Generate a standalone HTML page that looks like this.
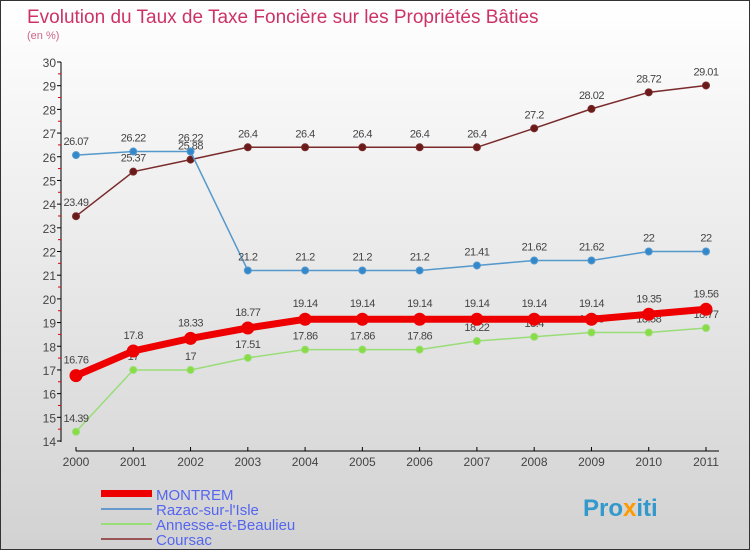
<!DOCTYPE html>
<html><head><meta charset="utf-8"><style>
body{margin:0}
#wrap{width:750px;height:550px;position:relative;background:linear-gradient(#ffffff,#d2d2d2);box-sizing:border-box;border:1px solid #333;font-family:"Liberation Sans",sans-serif}
</style></head><body>
<div id="wrap">
<svg id="svg" width="750" height="550" style="position:absolute;left:0;top:0">
<text x="26" y="22" font-size="19" fill="#cc3366">Evolution du Taux de Taxe Foncière sur les Propriétés Bâties</text>
<text x="26" y="38" font-size="11" fill="#cc6688">(en %)</text>
<g id="axes"></g><g id="series"></g>
<g>
<rect x="100" y="489" width="51" height="7" fill="#ee0000"/>
<text x="155" y="499" font-size="15" fill="#5566ee">MONTREM</text>
<rect x="100" y="507" width="51" height="2" fill="#6699cc"/>
<text x="155" y="514" font-size="15" fill="#5566ee">Razac-sur-l'Isle</text>
<rect x="100" y="522" width="51" height="2" fill="#99dd77"/>
<text x="155" y="529" font-size="15" fill="#5566ee">Annesse-et-Beaulieu</text>
<rect x="100" y="537" width="51" height="2" fill="#995555"/>
<text x="155" y="544" font-size="15" fill="#5566ee">Coursac</text>
</g>
<text x="582" y="515" font-size="24" font-weight="bold" fill="#3399cc">Pro<tspan fill="#ff9900">x</tspan>iti</text>
</svg>
</div>
<script>
const years=["2000","2001","2002","2003","2004","2005","2006","2007","2008","2009","2010","2011"];
const yTicks=[14,15,16,17,18,19,20,21,22,23,24,25,26,27,28,29,30];
const montrem=[16.76,17.8,18.33,18.77,19.14,19.14,19.14,19.14,19.14,19.14,19.35,19.56];
const razac=[26.07,26.22,26.22,21.2,21.2,21.2,21.2,21.41,21.62,21.62,22,22];
const annesse=[14.39,17,17,17.51,17.86,17.86,17.86,18.22,18.4,18.58,18.58,18.77];
const coursac=[23.49,25.37,25.88,26.4,26.4,26.4,26.4,26.4,27.2,28.02,28.72,29.01];
const NS="http://www.w3.org/2000/svg";
function xS(i){return 75+i*(705-75)/11;}
function yS(v){return 440-(v-14)*(440-61)/16;}
function mk(t,a,p){const e=document.createElementNS(NS,t);for(const k in a)e.setAttribute(k,a[k]);p.appendChild(e);return e;}
const ax=document.getElementById('axes');
const yl=mk('line',{x1:60,y1:61,x2:60,y2:441,stroke:'#000'},ax);


yTicks.forEach(v=>{
 mk('line',{x1:56,y1:yS(v),x2:60,y2:yS(v),stroke:'#000'},ax);
 if(v<30)mk('line',{x1:57,y1:yS(v+0.5),x2:60,y2:yS(v+0.5),stroke:'#d00'},ax);
 const t=mk('text',{x:55,y:yS(v)+5,'text-anchor':'end','font-size':12,fill:'#444'},ax);
 t.textContent=v;
 
 
});
const xl=mk('line',{x1:75,y1:450,x2:718,y2:450,stroke:'#000'},ax);


years.forEach((y,i)=>{
 mk('line',{x1:xS(i),y1:446,x2:xS(i),y2:450,stroke:'#000'},ax);
 const t=mk('text',{x:xS(i),y:465,'text-anchor':'middle','font-size':12,fill:'#444'},ax);
 t.textContent=y;
 
 
});
const sg=document.getElementById('series');
function draw(data,name,color,dot,w,r,lblDy){
 const g=mk('g',{},sg);
 
 
 const pl=mk('polyline',{points:data.map((v,i)=>xS(i)+','+yS(v)).join(' '),fill:'none',stroke:color,'stroke-width':w},g);
 
 
 data.forEach((v,i)=>{
  const c=mk('circle',{cx:xS(i),cy:yS(v),r:r,fill:dot,stroke:color,'stroke-width':1},g);
  
  
  const t=mk('text',{x:xS(i),y:yS(v)+lblDy,'text-anchor':'middle','font-size':11,fill:'#444','letter-spacing':'-0.5'},g);
  t.textContent=v;
  
  
 });
}
draw(coursac,'coursac','#7a2a2a','#6b1a1a',1.5,3.5,-10);
draw(razac,'razac','#5599cc','#3388cc',1.5,3.5,-10);
draw(annesse,'annesse','#99dd77','#88dd44',1.5,3.5,-10);
draw(montrem,'montrem','#ee0000','#ee0000',7,6,-12);
</script>
</body></html>
